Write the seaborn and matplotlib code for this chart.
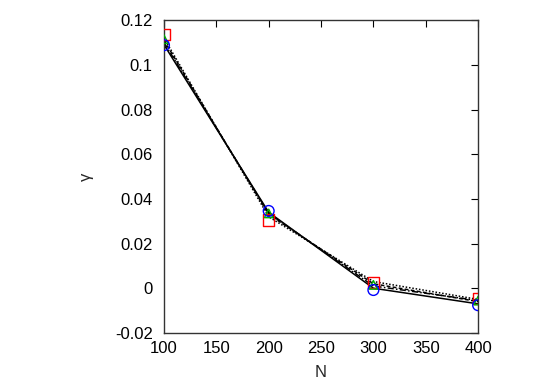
import matplotlib
matplotlib.use("Agg")
import matplotlib.pyplot as plt
import seaborn as sns
import pandas as pd

N = [100, 200, 300, 400]

# black curves
line_solid = [0.1090, 0.0340, 0.0000, -0.0070]
line_dash = [0.1110, 0.0330, 0.0020, -0.0060]
line_dot = [0.1120, 0.0320, 0.0030, -0.0050]
line_dashdot = [0.1100, 0.0335, 0.0010, -0.0055]

# marker series
red_sq = [0.1135, 0.0305, 0.0025, -0.0045]
green_tri = [0.1115, 0.0335, 0.0015, -0.0055]
blue_circ = [0.1088, 0.0346, -0.0008, -0.0076]

yticks = [-0.02, 0, 0.02, 0.04, 0.06, 0.08, 0.1, 0.12]
ytick_labels = ["-0.02", "0", "0.02", "0.04", "0.06", "0.08", "0.1", "0.12"]
xticks = [100, 150, 200, 250, 300, 350, 400]

sns.set_style("white")
plt.rcParams['font.family'] = ['Liberation Sans', 'DejaVu Sans']

fig = plt.figure(figsize=(5.54, 3.88), dpi=100)
ax = fig.add_axes([0.296, 0.142, 0.567, 0.806])

for vals, ls in [(line_dot, (0, (1, 1.2))), (line_dashdot, (0, (4, 1.5, 1, 1.5))),
                 (line_dash, (0, (2.5, 1.5))), (line_solid, '-')]:
    df = pd.DataFrame({"N": N, "g": vals})
    sns.lineplot(data=df, x="N", y="g", ax=ax, color="black", linewidth=1.1,
                 linestyle=ls, legend=False)

for vals, mk, col, sz in [(red_sq, 's', 'red', 65), (green_tri, '^', '#00b000', 38),
                          (blue_circ, 'o', 'blue', 60)]:
    df = pd.DataFrame({"N": N, "g": vals})
    sns.scatterplot(data=df, x="N", y="g", ax=ax, marker=mk, facecolors='none',
                    edgecolor=col, linewidth=1.0, s=sz, legend=False, zorder=5)

ax.set_xlim(100, 400)
ax.set_ylim(-0.02, 0.12)
ax.set_xticks(xticks)
ax.set_xticklabels([str(x) for x in xticks])
ax.set_yticks(yticks)
ax.set_yticklabels(ytick_labels)
ax.tick_params(direction='in', length=5, width=0.8, top=True, right=True,
               labelsize=12, colors='black')
ax.tick_params(axis='y', pad=8)
ax.tick_params(axis='x', pad=6)
for s in ax.spines.values():
    s.set_color('#333333')
    s.set_linewidth(1.0)
ax.set_xlabel("N", fontsize=12, labelpad=6)
ax.set_ylabel("γ", fontsize=12, labelpad=15)

fig.savefig("out.png", dpi=100)
